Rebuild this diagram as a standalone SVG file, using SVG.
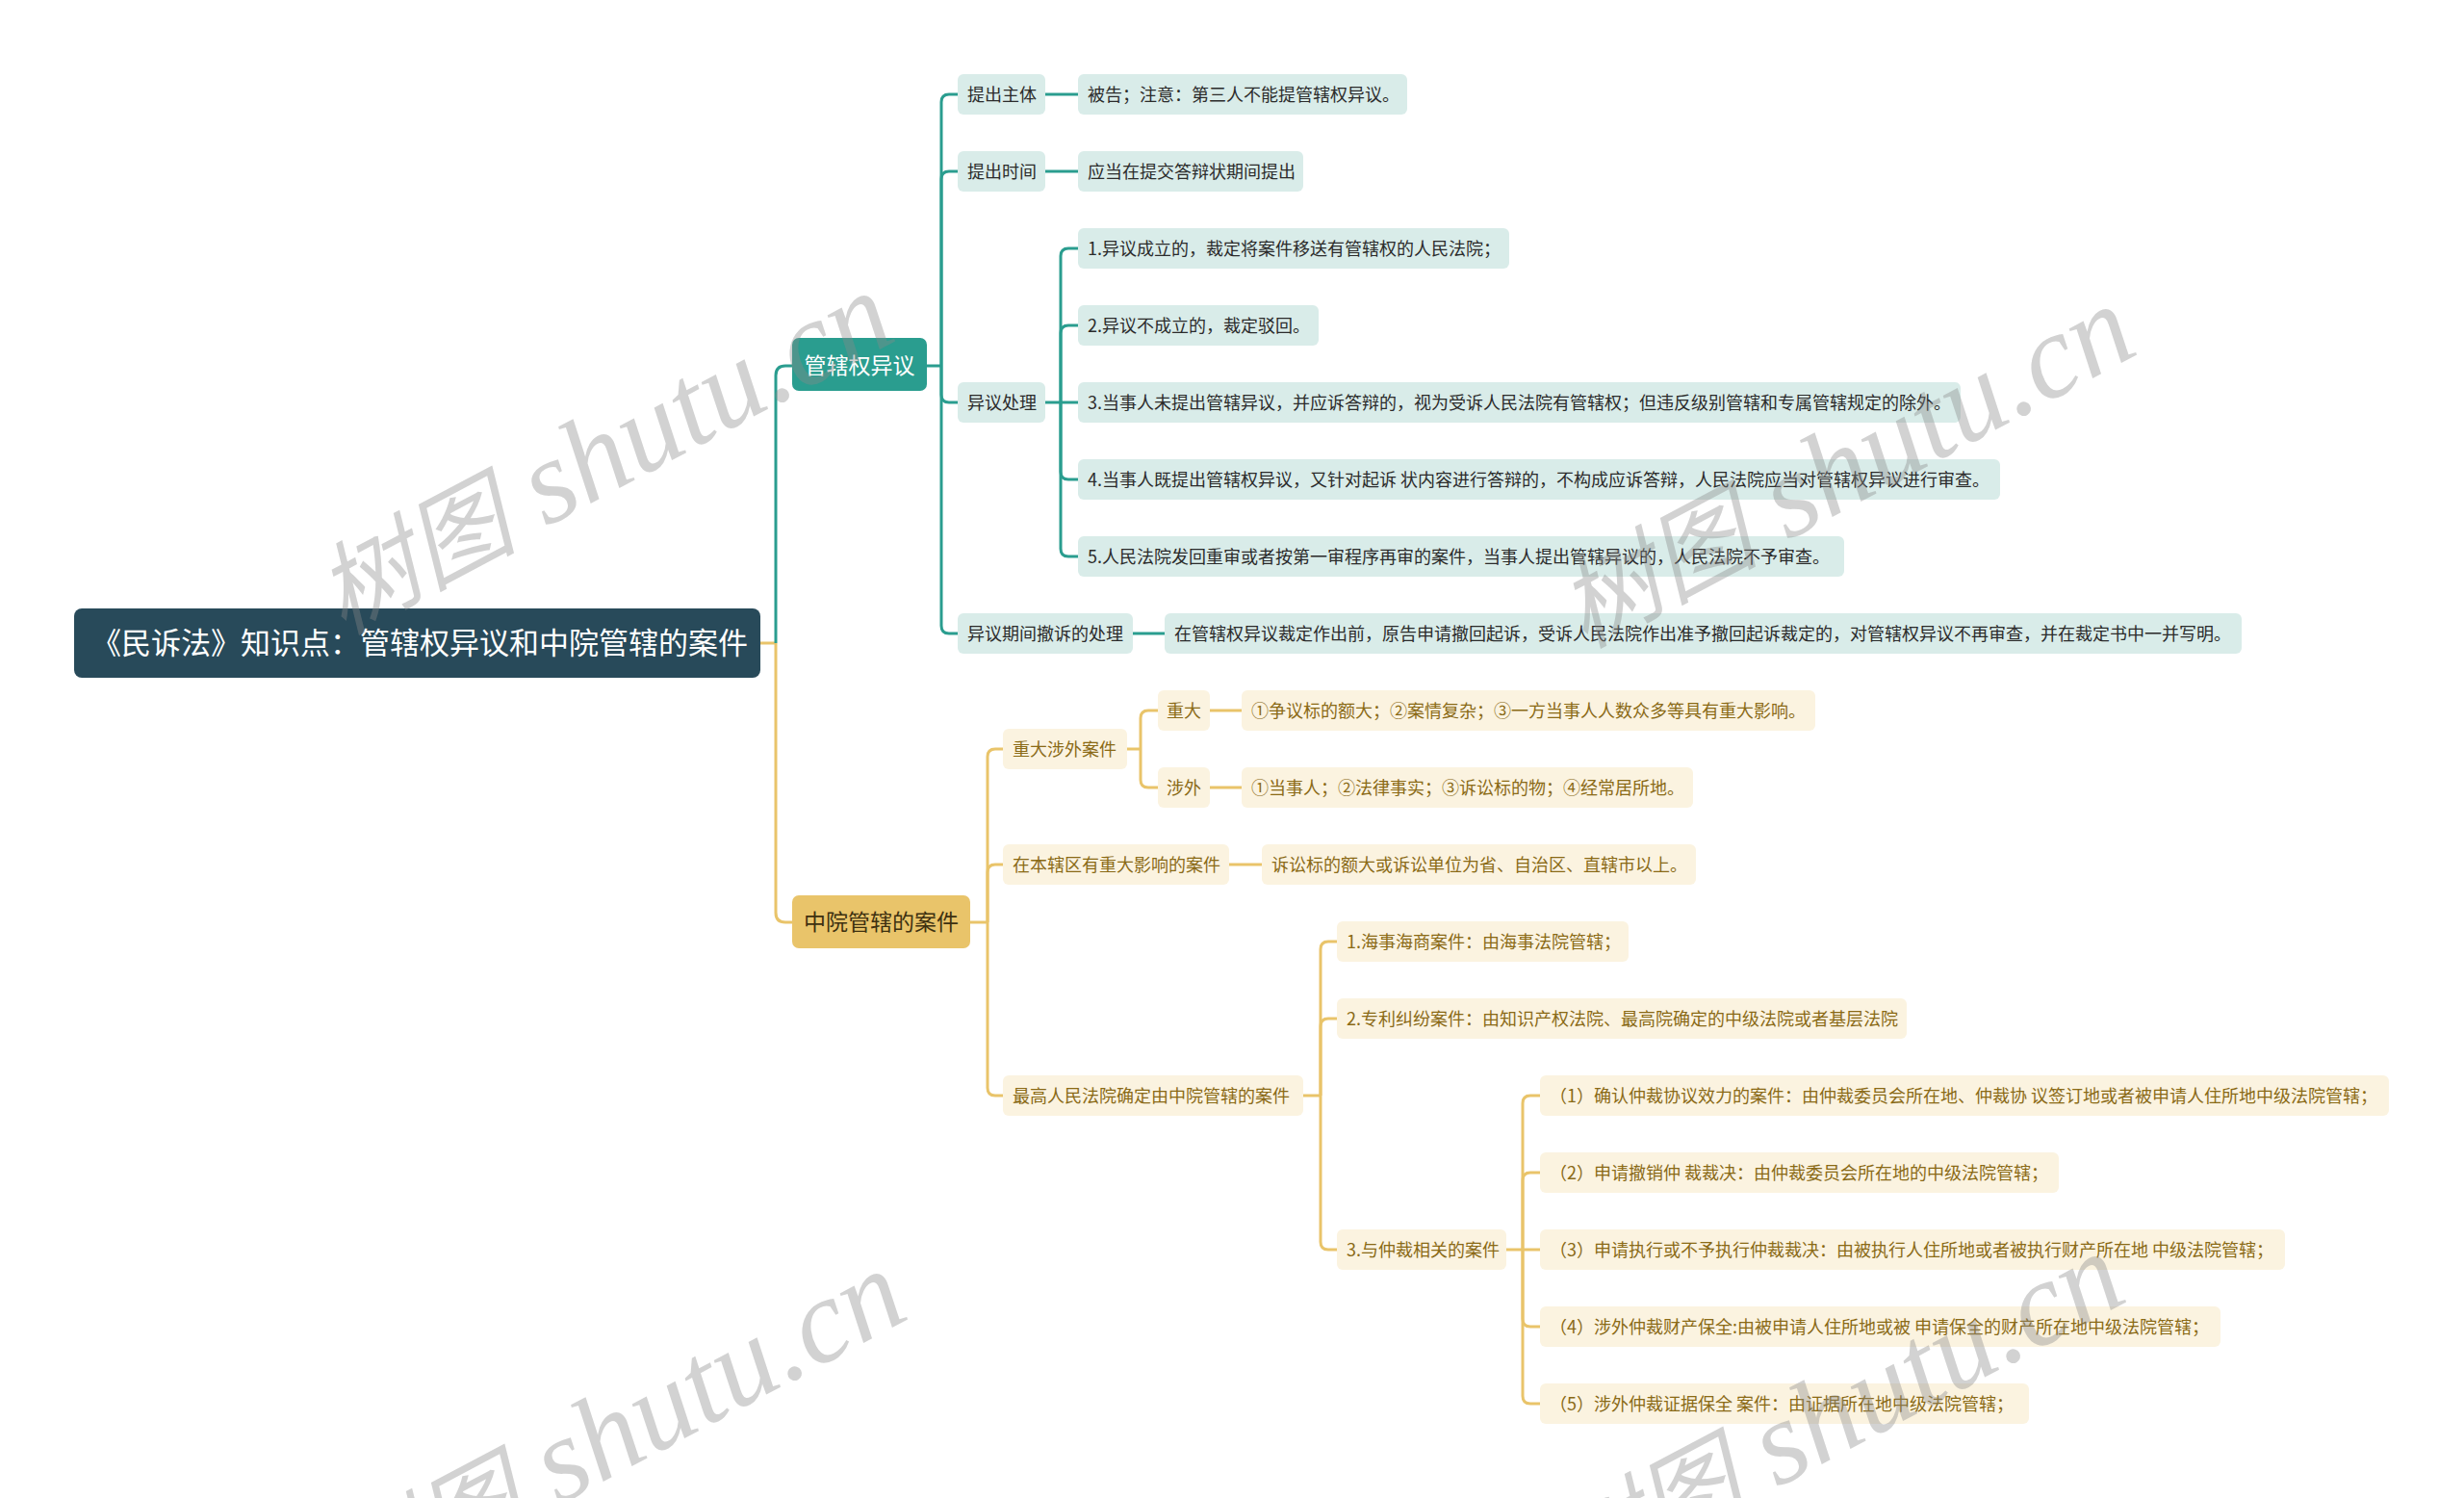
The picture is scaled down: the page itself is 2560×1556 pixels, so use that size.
<svg xmlns="http://www.w3.org/2000/svg" width="2560" height="1556" viewBox="0 0 2560 1556">
<style>
text{font-family:"Noto Sans CJK SC","Liberation Sans",sans-serif}
.root{fill:#284a5a}
.rootT{fill:#ffffff;font-size:31px;text-anchor:middle}
.t1{fill:#2a9d8f}
.t1T{fill:#ffffff;font-size:23px;text-anchor:middle}
.g1{fill:#e9c46a}
.g1T{fill:#3d3010;font-size:23px;text-anchor:middle}
.tb{fill:#d9ece9}
.tT{fill:#2b2b2b;font-size:18px}
.gb{fill:#fbf3e0}
.gT{fill:#8a6a16;font-size:18px}
.ct{fill:none;stroke:#2a9d8f;stroke-width:3}
.cg{fill:none;stroke:#e9c46a;stroke-width:3}
.wm{font-family:"Liberation Serif",serif;font-style:italic;font-size:124px;fill:#8a8a8a;fill-opacity:0.38;text-anchor:end}
.wmc{font-family:"Noto Sans CJK SC",sans-serif;font-style:italic;font-size:104px}
</style>
<rect width="2560" height="1556" fill="#ffffff"/>

<g id="connectors">
  <path class="cg" d="M790 668 H806"/>
  <path class="ct" d="M806 668 V390 Q806 380 816 380 H823"/>
  <path class="cg" d="M806 668 V948 Q806 958 816 958 H823"/>
  <path class="ct" d="M963 380 H978"/>
  <path class="ct" d="M978 380 V106 Q978 98 986 98 H995"/>
  <path class="ct" d="M978 380 V186 Q978 178 986 178 H995"/>
  <path class="ct" d="M978 380 V410 Q978 418 986 418 H995"/>
  <path class="ct" d="M978 380 V650 Q978 658 986 658 H995"/>
  <path class="ct" d="M1086 98 H1120"/>
  <path class="ct" d="M1086 178 H1120"/>
  <path class="ct" d="M1086 418 H1102"/>
  <path class="ct" d="M1102 418 V266 Q1102 258 1110 258 H1120"/>
  <path class="ct" d="M1102 418 V346 Q1102 338 1110 338 H1120"/>
  <path class="ct" d="M1102 418 H1120"/>
  <path class="ct" d="M1102 418 V490 Q1102 498 1110 498 H1120"/>
  <path class="ct" d="M1102 418 V570 Q1102 578 1110 578 H1120"/>
  <path class="ct" d="M1177 658 H1210"/>
  <path class="cg" d="M1008 958 H1026"/>
  <path class="cg" d="M1026 958 V786 Q1026 778 1034 778 H1042"/>
  <path class="cg" d="M1026 958 V906 Q1026 898 1034 898 H1042"/>
  <path class="cg" d="M1026 958 V1130 Q1026 1138 1034 1138 H1042"/>
  <path class="cg" d="M1171 778 H1185"/>
  <path class="cg" d="M1185 778 V746 Q1185 738 1193 738 H1203"/>
  <path class="cg" d="M1185 778 V810 Q1185 818 1193 818 H1203"/>
  <path class="cg" d="M1257 738 H1290"/>
  <path class="cg" d="M1257 818 H1290"/>
  <path class="cg" d="M1277 898 H1311"/>
  <path class="cg" d="M1354 1138 H1372"/>
  <path class="cg" d="M1372 1138 V986 Q1372 978 1380 978 H1389"/>
  <path class="cg" d="M1372 1138 V1066 Q1372 1058 1380 1058 H1389"/>
  <path class="cg" d="M1372 1138 V1290 Q1372 1298 1380 1298 H1389"/>
  <path class="cg" d="M1565 1298 H1582"/>
  <path class="cg" d="M1582 1298 V1146 Q1582 1138 1590 1138 H1600"/>
  <path class="cg" d="M1582 1298 V1226 Q1582 1218 1590 1218 H1600"/>
  <path class="cg" d="M1582 1298 H1600"/>
  <path class="cg" d="M1582 1298 V1370 Q1582 1378 1590 1378 H1600"/>
  <path class="cg" d="M1582 1298 V1450 Q1582 1458 1590 1458 H1600"/>
</g>

<g id="root">
  <rect class="root" x="77" y="632" width="713" height="72" rx="8"/>
  <text class="rootT" x="436" y="679">《民诉法》知识点：管辖权异议和中院管辖的案件</text>
</g>

<g id="n-gxq">
  <rect class="t1" x="823" y="351" width="140" height="55" rx="7"/>
  <text class="t1T" x="893" y="388">管辖权异议</text>
</g>
<g id="n-zy">
  <rect class="g1" x="823" y="930" width="185" height="55" rx="7"/>
  <text class="g1T" x="915.5" y="966">中院管辖的案件</text>
</g>

<g id="n-tczt"><rect class="tb" x="995" y="77" width="91" height="42" rx="6"/><text class="tT" x="1005" y="104.5">提出主体</text></g>
<g id="n-tczt-1"><rect class="tb" x="1120" y="77" width="342" height="42" rx="6"/><text class="tT" x="1130" y="104.5">被告；注意：第三人不能提管辖权异议。</text></g>
<g id="n-tcsj"><rect class="tb" x="995" y="157" width="91" height="42" rx="6"/><text class="tT" x="1005" y="184.5">提出时间</text></g>
<g id="n-tcsj-1"><rect class="tb" x="1120" y="157" width="234" height="42" rx="6"/><text class="tT" x="1130" y="184.5">应当在提交答辩状期间提出</text></g>
<g id="n-yycl"><rect class="tb" x="995" y="397" width="91" height="42" rx="6"/><text class="tT" x="1005" y="424.5">异议处理</text></g>
<g id="n-yycl-1"><rect class="tb" x="1120" y="237" width="448" height="42" rx="6"/><text class="tT" x="1130" y="264.5">1.异议成立的，裁定将案件移送有管辖权的人民法院；</text></g>
<g id="n-yycl-2"><rect class="tb" x="1120" y="317" width="250" height="42" rx="6"/><text class="tT" x="1130" y="344.5">2.异议不成立的，裁定驳回。</text></g>
<g id="n-yycl-3"><rect class="tb" x="1120" y="397" width="917" height="42" rx="6"/><text class="tT" x="1130" y="424.5">3.当事人未提出管辖异议，并应诉答辩的，视为受诉人民法院有管辖权；但违反级别管辖和专属管辖规定的除外。</text></g>
<g id="n-yycl-4"><rect class="tb" x="1120" y="477" width="958" height="42" rx="6"/><text class="tT" x="1130" y="504.5">4.当事人既提出管辖权异议，又针对起诉 状内容进行答辩的，不构成应诉答辩，人民法院应当对管辖权异议进行审查。</text></g>
<g id="n-yycl-5"><rect class="tb" x="1120" y="557" width="796" height="42" rx="6"/><text class="tT" x="1130" y="584.5">5.人民法院发回重审或者按第一审程序再审的案件，当事人提出管辖异议的，人民法院不予审查。</text></g>
<g id="n-cs"><rect class="tb" x="995" y="637" width="182" height="42" rx="6"/><text class="tT" x="1005" y="664.5">异议期间撤诉的处理</text></g>
<g id="n-cs-1"><rect class="tb" x="1210" y="637" width="1119" height="42" rx="6"/><text class="tT" x="1220" y="664.5">在管辖权异议裁定作出前，原告申请撤回起诉，受诉人民法院作出准予撤回起诉裁定的，对管辖权异议不再审查，并在裁定书中一并写明。</text></g>

<g id="n-zdsw"><rect class="gb" x="1042" y="757" width="129" height="42" rx="6"/><text class="gT" x="1052" y="784.5">重大涉外案件</text></g>
<g id="n-zd"><rect class="gb" x="1203" y="717" width="54" height="42" rx="6"/><text class="gT" x="1212" y="744.5">重大</text></g>
<g id="n-zd-1"><rect class="gb" x="1290" y="717" width="596" height="42" rx="6"/><text class="gT" x="1300" y="744.5">①争议标的额大；②案情复杂；③一方当事人人数众多等具有重大影响。</text></g>
<g id="n-sw"><rect class="gb" x="1203" y="797" width="54" height="42" rx="6"/><text class="gT" x="1212" y="824.5">涉外</text></g>
<g id="n-sw-1"><rect class="gb" x="1290" y="797" width="469" height="42" rx="6"/><text class="gT" x="1300" y="824.5">①当事人；②法律事实；③诉讼标的物；④经常居所地。</text></g>
<g id="n-bxq"><rect class="gb" x="1042" y="877" width="235" height="42" rx="6"/><text class="gT" x="1052" y="904.5">在本辖区有重大影响的案件</text></g>
<g id="n-bxq-1"><rect class="gb" x="1311" y="877" width="451" height="42" rx="6"/><text class="gT" x="1321" y="904.5">诉讼标的额大或诉讼单位为省、自治区、直辖市以上。</text></g>
<g id="n-zg"><rect class="gb" x="1042" y="1117" width="312" height="42" rx="6"/><text class="gT" x="1052" y="1144.5">最高人民法院确定由中院管辖的案件</text></g>
<g id="n-zg-1"><rect class="gb" x="1389" y="957" width="303" height="42" rx="6"/><text class="gT" x="1399" y="984.5">1.海事海商案件：由海事法院管辖；</text></g>
<g id="n-zg-2"><rect class="gb" x="1389" y="1037" width="592" height="42" rx="6"/><text class="gT" x="1399" y="1064.5">2.专利纠纷案件：由知识产权法院、最高院确定的中级法院或者基层法院</text></g>
<g id="n-zg-3"><rect class="gb" x="1389" y="1277" width="176" height="42" rx="6"/><text class="gT" x="1399" y="1304.5">3.与仲裁相关的案件</text></g>
<g id="n-zc-1"><rect class="gb" x="1600" y="1117" width="882" height="42" rx="6"/><text class="gT" x="1610" y="1144.5">（1）确认仲裁协议效力的案件：由仲裁委员会所在地、仲裁协 议签订地或者被申请人住所地中级法院管辖；</text></g>
<g id="n-zc-2"><rect class="gb" x="1600" y="1197" width="539" height="42" rx="6"/><text class="gT" x="1610" y="1224.5">（2）申请撤销仲 裁裁决：由仲裁委员会所在地的中级法院管辖；</text></g>
<g id="n-zc-3"><rect class="gb" x="1600" y="1277" width="774" height="42" rx="6"/><text class="gT" x="1610" y="1304.5">（3）申请执行或不予执行仲裁裁决：由被执行人住所地或者被执行财产所在地 中级法院管辖；</text></g>
<g id="n-zc-4"><rect class="gb" x="1600" y="1357" width="707" height="42" rx="6"/><text class="gT" x="1610" y="1384.5">（4）涉外仲裁财产保全:由被申请人住所地或被 申请保全的财产所在地中级法院管辖；</text></g>
<g id="n-zc-5"><rect class="gb" x="1600" y="1437" width="508" height="42" rx="6"/><text class="gT" x="1610" y="1464.5">（5）涉外仲裁证据保全 案件：由证据所在地中级法院管辖；</text></g>

<g id="watermarks">
  <text class="wm" x="935" y="352" transform="rotate(-28 935 352)"><tspan class="wmc">树图</tspan> shutu.cn</text>
  <text class="wm" x="2225" y="366" transform="rotate(-28 2225 366)"><tspan class="wmc">树图</tspan> shutu.cn</text>
  <text class="wm" x="948" y="1368" transform="rotate(-28 948 1368)"><tspan class="wmc">树图</tspan> shutu.cn</text>
  <text class="wm" x="2214" y="1350" transform="rotate(-28 2214 1350)"><tspan class="wmc">树图</tspan> shutu.cn</text>
</g>
</svg>
